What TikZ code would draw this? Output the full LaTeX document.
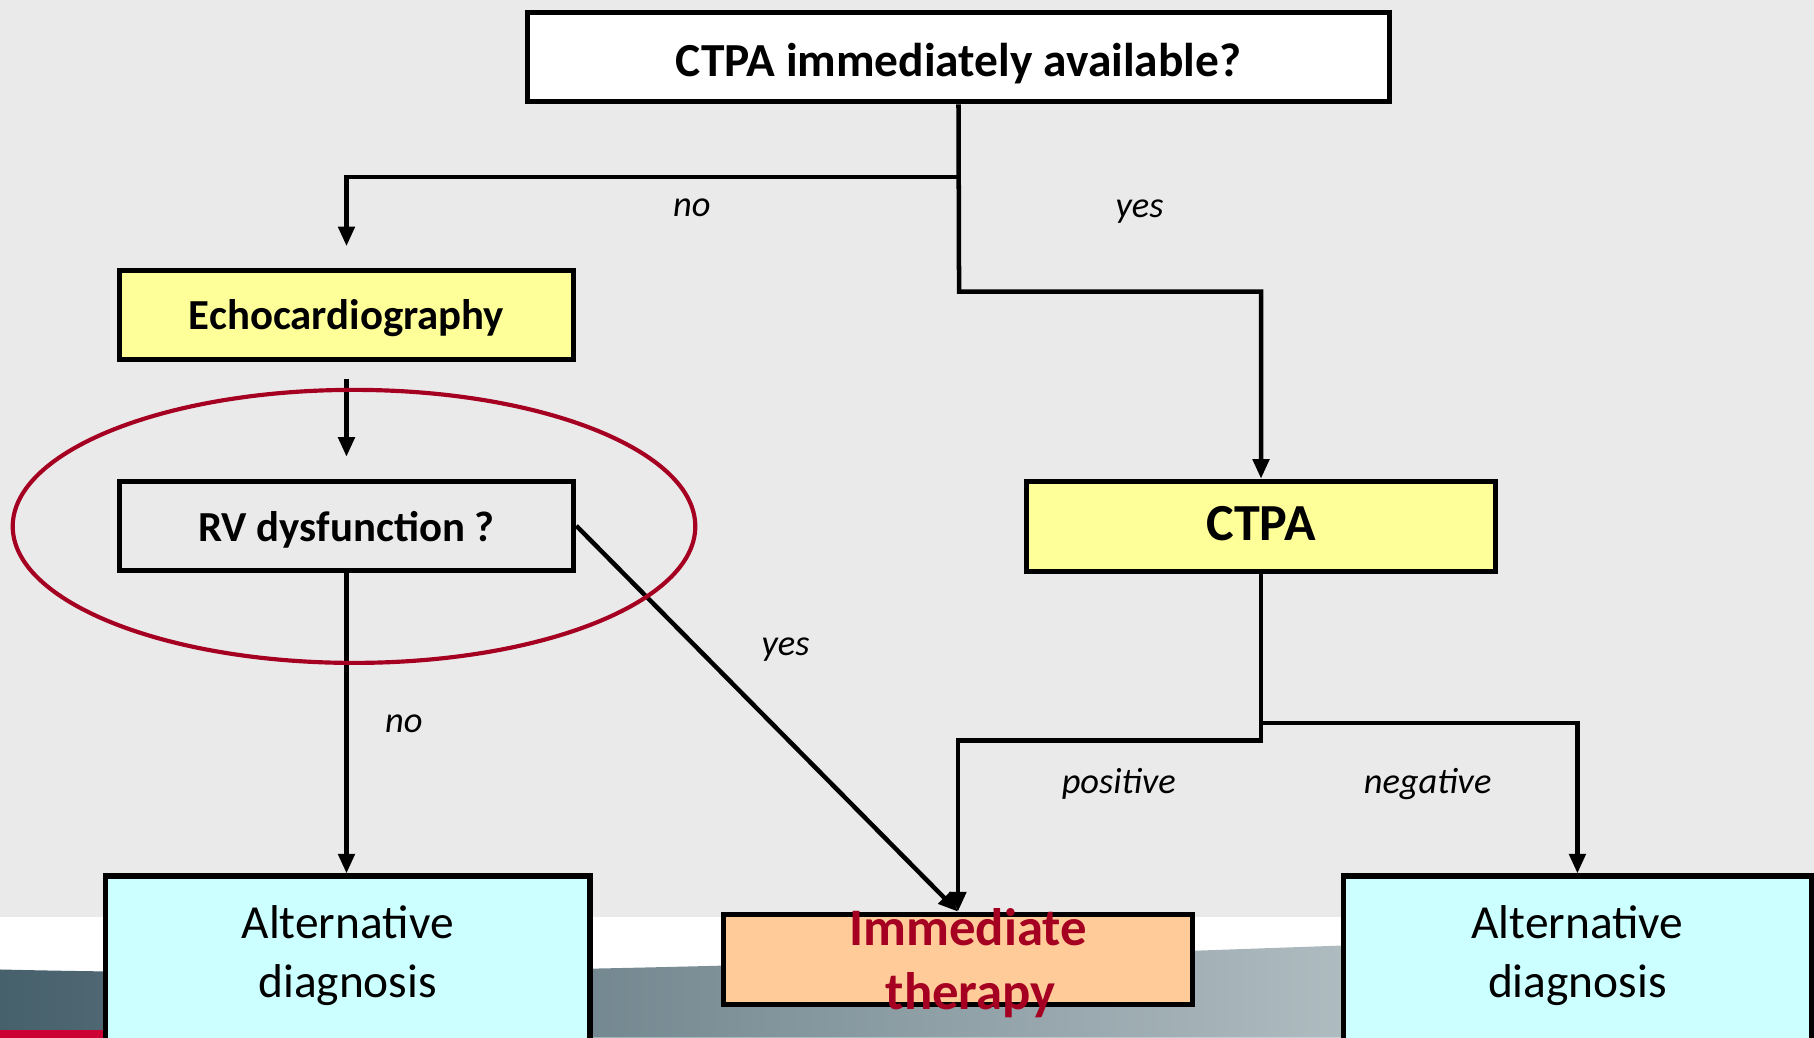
\documentclass[tikz,border=0pt]{standalone}
\usepackage{fontspec}
\setmainfont{Carlito}
\usetikzlibrary{arrows.meta}

\definecolor{bggray}{HTML}{EAEAEA}
\definecolor{boxyellow}{HTML}{FFFF99}
\definecolor{boxcyan}{HTML}{CCFFFF}
\definecolor{boxorange}{HTML}{FFCC99}
\definecolor{darkred}{HTML}{A50021}
\definecolor{slate}{HTML}{46606C}
\definecolor{mist}{HTML}{D3DBDD}
\definecolor{stripred}{HTML}{CC0033}

\tikzset{
  box/.style={draw=black, line width=4.4pt, inner sep=0pt, align=center},
  flow/.style={line width=3.9pt},
  lbl/.style={anchor=base, font=\fontsize{31.5}{38}\selectfont\itshape},
}

\begin{document}
\begin{tikzpicture}[x=1pt,y=-1pt,>={Triangle[length=17pt,width=14pt]}]
\useasboundingbox (0,0) rectangle (1568,897);
\clip (0,0) rectangle (1568,897);
% slide background
\fill[bggray] (0,0) rectangle (1568,793);
\fill[white] (0,793) rectangle (1568,897);
\shade[left color=slate, right color=mist] (0,838) .. controls (500,850) and (1100,815) .. (1568,805) -- (1568,897) -- (0,897) -- cycle;
\fill[stripred] (0,890) rectangle (91,897);

% boxes
\node[box, fill=white, minimum width=745pt, minimum height=77pt, text height=33pt, text depth=0pt, font=\fontsize{41}{49}\selectfont\bfseries] (avail) at (828.5,49.5) {CTPA immediately available?};
\node[box, fill=boxyellow, minimum width=393pt, minimum height=77pt, text height=25pt, text depth=0pt, font=\fontsize{37}{44}\selectfont\bfseries] (echo) at (299.5,272.5) {Echocardiography};
\node[box, minimum width=393pt, minimum height=77pt, text height=27pt, text depth=0pt, font=\fontsize{37}{44}\selectfont\bfseries] (rv) at (299.5,454.5) {RV dysfunction ?};
\node[box, fill=boxyellow, minimum width=406pt, minimum height=78pt, text height=25pt, text depth=0pt, font=\fontsize{45}{54}\selectfont\bfseries] (ctpa) at (1090,455) {CTPA};
\node[box, fill=boxcyan, anchor=north, minimum width=419pt, text height=105pt, text depth=65pt, font=\fontsize{41}{51}\selectfont] (altL) at (300.5,755) {Alternative\\diagnosis};
\node[box, fill=boxorange, anchor=north, minimum width=406pt, text height=78pt, text depth=0pt, text=darkred, font=\fontsize{45.6}{55}\selectfont\bfseries] (imm) at (828,788) {\raisebox{-4pt}{\hspace{18pt}Immediate}\\\raisebox{-4pt}{\hspace{22pt}therapy}};
\node[box, fill=boxcyan, anchor=north, minimum width=405pt, text height=105pt, text depth=65pt, font=\fontsize{41}{51}\selectfont] (altR) at (1363.5,755) {Alternative\\diagnosis};

% connectors
\coordinate (nofork) at (829,153);
\coordinate (yesfork) at (829,252);
\coordinate (posfork) at (1090,640);
\coordinate (negfork) at (1090,625);
\draw[flow,->] (avail.south) -- (yesfork) -| (ctpa.north);
\draw[flow,->,shorten >=19pt] (nofork) -| (echo.north);
\draw[flow,->,shorten <=14pt,shorten >=19pt] (echo.south) -- (rv.north);
\draw[flow,->] (rv.south) -- (rv.south |- altL.north);
\draw[flow,->] (rv.east) -- (imm.north);
\draw[flow,->] (ctpa.south) -- (posfork) -| (imm.north);
\draw[flow,->] (negfork) -| (altR.north);

% highlight
\draw[darkred, line width=3.6pt] (306,455) ellipse [x radius=295, y radius=118];

% labels
\node[lbl] (noEcho) at (598,187) {no};
\node[lbl] (yesCtpa) at (985,188) {yes};
\node[lbl] (noRv) at (349,633) {no};
\node[lbl] (yesRv) at (679,567) {yes};
\node[lbl] (posLbl) at (967,686) {positive};
\node[lbl] (negLbl) at (1234,686) {negative};
\end{tikzpicture}
\end{document}
